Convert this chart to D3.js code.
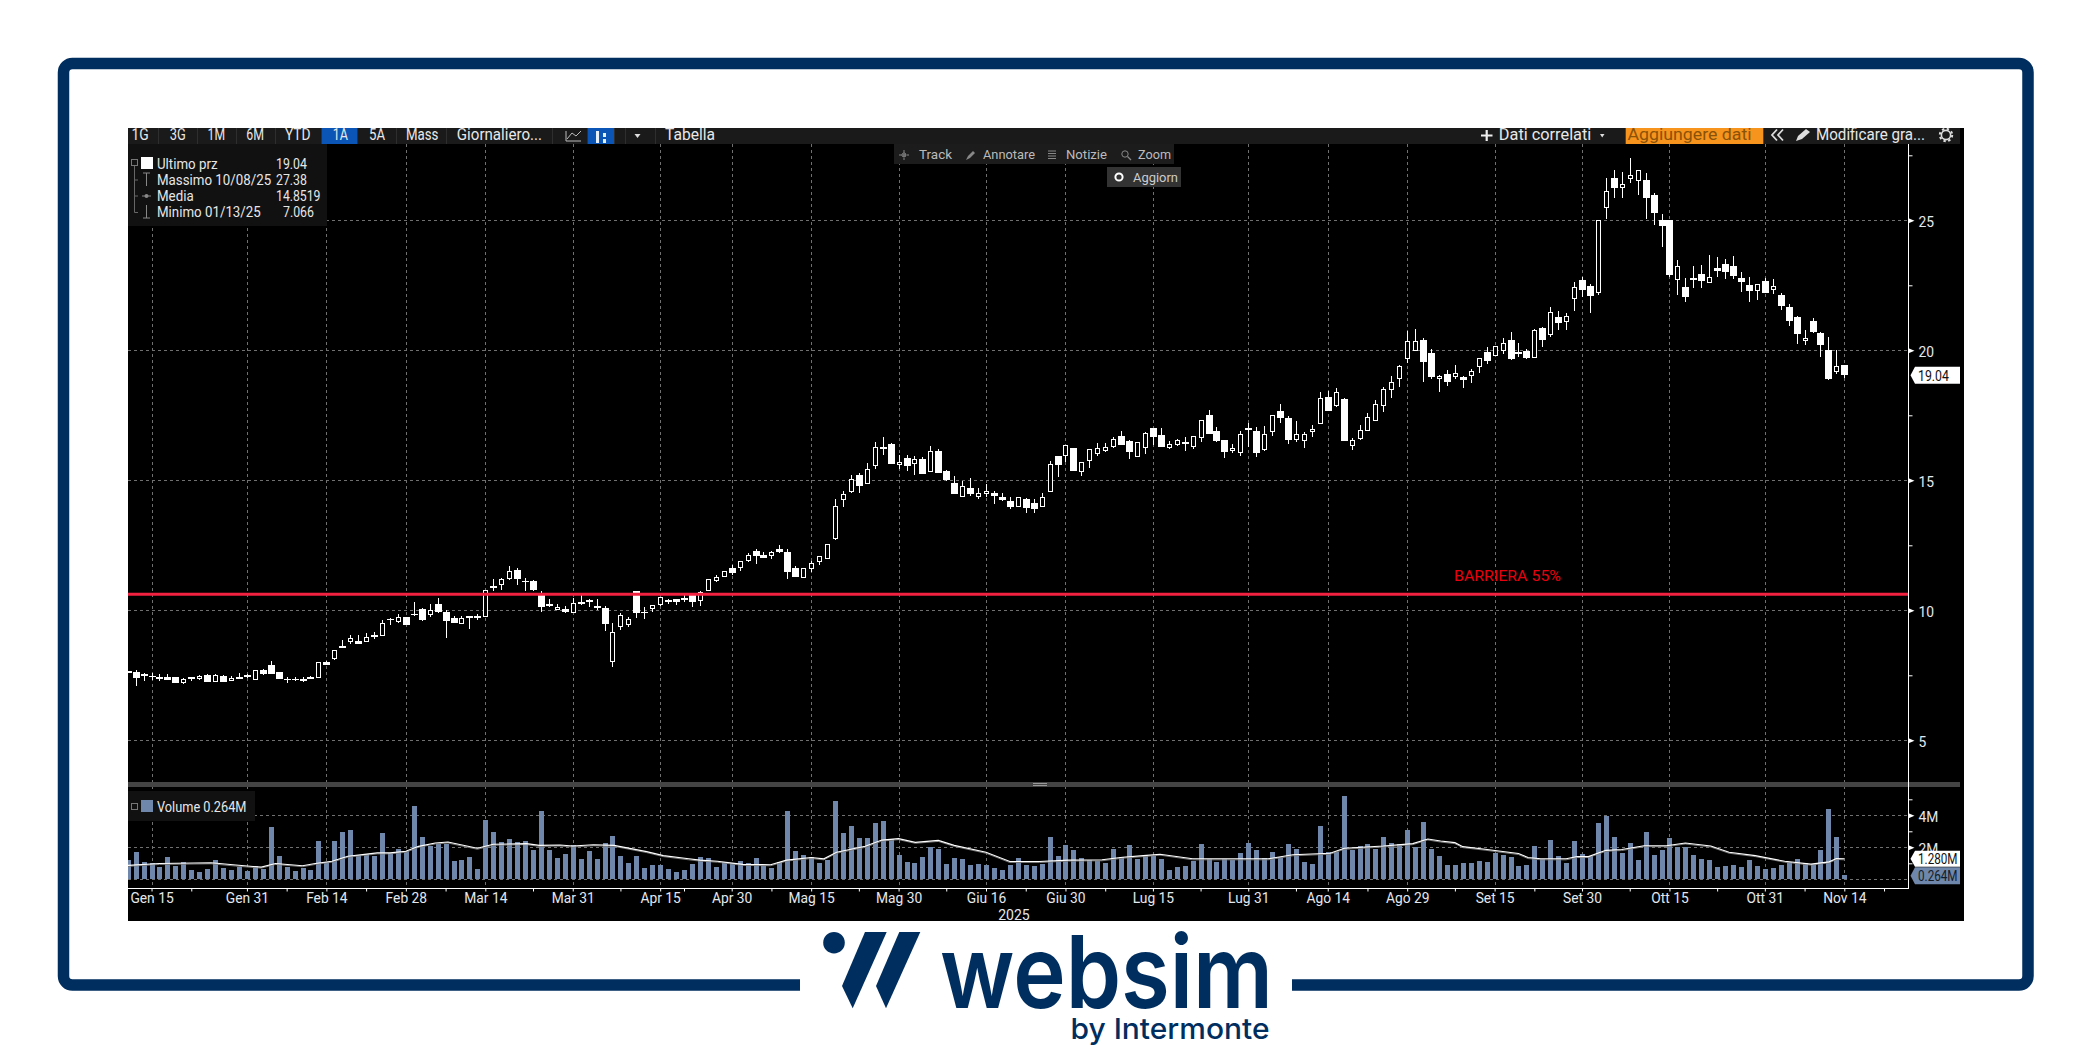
<!DOCTYPE html>
<html><head><meta charset="utf-8">
<script src="https://cdn.jsdelivr.net/npm/d3@7/dist/d3.min.js"></script>
<style>html,body{margin:0;padding:0;background:#fff;overflow:hidden}svg{display:block}text{font-family:Roboto,"Liberation Sans",sans-serif}</style>
</head><body><div id="chart"></div><script>
// ---------- data ----------
const openPrices=[7.67,7.62,7.55,7.49,7.44,7.44,7.42,7.23,7.42,7.37,7.50,7.27,7.46,7.31,7.42,7.51,7.35,7.69,7.90,7.62,7.36,7.36,7.35,7.42,7.42,8.00,8.14,8.63,8.79,8.81,8.81,9.04,9.03,9.67,9.56,9.73,9.87,10.05,9.83,10.23,9.92,9.69,9.50,9.78,9.78,9.76,10.94,11.00,11.22,11.55,11.14,11.13,10.59,10.24,10.04,10.05,9.92,10.32,10.41,10.17,10.08,8.04,9.36,9.46,10.76,9.95,10.06,10.22,10.39,10.42,10.46,10.57,10.38,10.75,11.16,11.30,11.64,11.64,11.90,12.30,12.11,12.09,12.37,12.23,11.62,11.28,11.60,11.86,12.01,12.77,14.26,14.57,15.20,14.87,15.56,16.30,16.39,15.60,15.85,15.64,15.81,15.33,16.12,15.36,14.90,14.38,14.71,14.36,14.49,14.50,14.36,14.21,13.99,14.29,14.13,13.99,14.57,15.93,15.94,16.23,15.33,15.75,16.03,16.14,16.29,16.71,16.51,15.91,16.26,17.01,16.74,16.26,16.37,16.46,16.29,16.64,17.51,16.90,16.55,16.13,16.06,17.01,16.90,16.18,16.87,17.67,17.40,16.56,16.53,16.87,17.18,18.21,17.87,18.13,16.33,16.60,16.91,17.29,17.87,18.49,18.91,19.68,20.01,20.40,19.90,18.92,19.09,18.99,18.96,19.03,19.37,19.94,19.79,20.01,20.40,19.92,19.97,19.72,20.86,20.59,21.28,21.10,21.99,22.71,22.47,22.24,25.49,26.63,26.26,26.60,26.53,26.55,25.97,25.01,25.01,22.72,22.44,22.78,22.94,22.60,23.17,23.32,23.24,22.78,22.51,22.29,22.67,22.35,22.13,21.67,21.28,20.37,21.13,20.67,20.01,19.18,19.44];
const highPrices=[7.67,7.69,7.59,7.58,7.55,7.55,7.42,7.38,7.42,7.50,7.54,7.54,7.50,7.46,7.58,7.56,7.69,7.73,8.05,7.62,7.42,7.42,7.42,7.46,8.00,8.04,8.46,8.85,9.04,9.04,9.12,9.15,9.62,9.69,9.85,9.74,10.32,10.08,10.24,10.47,10.00,9.77,9.77,9.78,9.86,10.77,11.21,11.23,11.71,11.62,11.23,11.17,10.73,10.44,10.23,10.15,10.46,10.59,10.42,10.44,10.17,9.51,9.91,9.76,10.76,10.11,10.19,10.50,10.43,10.42,10.59,10.62,10.76,11.18,11.37,11.51,11.76,11.87,12.21,12.34,12.26,12.30,12.53,12.34,11.69,11.64,11.90,12.06,12.52,14.29,14.59,15.20,15.28,15.66,16.46,16.65,16.42,15.97,15.97,15.93,15.89,16.31,16.20,15.39,15.17,14.97,15.09,14.71,14.86,14.59,14.52,14.36,14.35,14.33,14.29,14.52,15.76,15.93,16.35,16.26,15.69,16.18,16.42,16.42,16.67,16.90,16.55,16.46,16.85,17.01,17.01,16.50,16.58,16.67,16.69,17.31,17.71,17.05,16.55,16.40,16.90,17.21,17.05,17.09,17.50,17.94,17.47,17.28,16.86,17.13,18.40,18.44,18.55,18.17,16.63,17.13,17.59,18.09,18.59,19.01,19.44,20.74,20.82,20.47,20.05,19.05,19.24,19.44,19.01,19.28,19.69,20.13,20.17,20.47,20.71,20.28,20.05,20.82,20.90,21.67,21.51,21.44,22.63,22.82,22.55,25.00,26.63,26.94,26.86,27.38,26.92,26.82,26.05,25.24,25.01,23.46,22.78,23.24,23.28,23.67,23.59,23.51,23.63,23.01,22.82,22.54,22.78,22.74,22.21,21.78,21.32,20.78,21.24,20.71,20.51,20.01,19.44];
const lowPrices=[7.60,7.10,7.28,7.31,7.28,7.32,7.22,7.18,7.28,7.32,7.26,7.26,7.26,7.28,7.37,7.41,7.33,7.51,7.56,7.37,7.22,7.28,7.26,7.36,7.41,7.90,8.10,8.54,8.72,8.72,8.79,8.90,9.03,9.45,9.51,9.44,9.79,9.60,9.76,9.91,8.95,9.53,9.49,9.29,9.64,9.76,10.74,10.79,11.18,10.99,10.74,10.74,9.95,10.13,10.00,9.91,9.90,10.21,10.13,10.03,9.21,7.82,9.24,9.36,9.71,9.65,9.95,10.18,10.24,10.20,10.33,10.14,10.18,10.75,11.09,11.30,11.34,11.51,11.86,11.78,12.01,11.98,12.20,11.21,11.28,11.25,11.48,11.74,11.97,12.71,13.98,14.53,14.52,14.87,15.45,15.97,15.62,15.45,15.36,15.20,15.24,15.32,15.29,14.97,14.48,14.38,14.40,14.29,14.36,14.10,14.21,13.91,13.99,13.75,13.75,13.98,14.55,15.13,15.70,15.36,15.17,15.47,15.93,16.10,16.26,16.36,15.82,15.91,16.01,16.35,16.28,16.21,16.33,16.13,16.21,16.47,16.78,16.47,15.86,16.05,15.94,16.28,15.90,16.13,16.71,17.21,16.40,16.47,16.24,16.67,17.18,17.67,17.82,16.51,16.17,16.55,16.90,17.28,17.63,18.17,18.59,19.51,20.01,18.78,18.90,18.40,18.63,18.90,18.55,18.74,19.13,19.47,19.78,19.86,19.63,19.74,19.67,19.71,20.13,20.51,20.78,20.78,21.51,22.04,21.44,22.13,25.05,25.86,25.86,26.44,25.97,25.05,24.82,23.97,22.82,22.13,21.86,22.40,22.40,22.60,22.82,22.74,22.74,22.24,21.86,21.94,22.21,22.17,21.55,20.94,20.24,20.21,20.67,19.74,18.86,19.09,18.94];
const closePrices=[7.60,7.41,7.50,7.42,7.37,7.33,7.22,7.35,7.37,7.46,7.26,7.49,7.26,7.38,7.37,7.45,7.69,7.56,7.56,7.37,7.31,7.33,7.32,7.37,8.00,7.91,8.46,8.55,8.92,8.72,8.96,9.01,9.50,9.64,9.73,9.45,9.85,9.64,9.99,9.95,9.60,9.53,9.69,9.76,9.71,10.77,10.87,11.19,11.49,11.21,11.08,10.78,10.13,10.17,10.12,9.95,10.26,10.24,10.33,10.10,9.47,9.14,9.81,9.64,9.91,9.93,10.19,10.50,10.37,10.33,10.43,10.32,10.67,11.18,11.26,11.51,11.44,11.87,12.10,12.07,12.01,12.21,12.23,11.46,11.28,11.60,11.79,12.06,12.52,14.01,14.47,15.04,14.80,15.42,16.26,16.20,15.62,15.69,15.56,15.80,15.24,16.11,15.29,15.01,14.48,14.77,14.48,14.50,14.58,14.40,14.25,13.98,14.35,13.94,13.91,14.35,15.61,15.59,16.34,15.36,15.69,16.18,16.22,16.27,16.58,16.36,16.09,16.46,16.81,16.67,16.28,16.38,16.54,16.41,16.69,17.31,16.78,16.51,16.09,16.23,16.77,16.95,16.05,16.77,17.50,17.40,16.55,16.77,16.77,16.96,18.15,17.67,18.38,16.51,16.54,16.92,17.42,17.92,18.50,18.77,19.38,20.35,20.35,19.55,18.97,19.00,18.78,19.10,18.86,19.19,19.69,19.59,20.15,20.27,19.67,19.87,19.71,20.77,20.40,21.46,21.05,21.31,22.42,22.32,22.09,25.00,26.12,26.24,26.38,26.73,26.92,25.86,25.28,24.78,22.90,23.23,22.05,22.72,22.67,22.81,23.05,23.01,22.86,22.63,22.28,22.54,22.21,22.46,21.71,21.13,20.63,20.46,20.71,20.21,18.90,19.37,19.04];
const volumes=[1.20,1.69,1.07,0.99,0.76,1.38,0.82,1.07,0.58,0.45,0.64,1.20,0.70,0.58,0.76,0.52,0.82,0.64,3.30,1.44,0.76,0.52,0.70,0.58,2.37,1.07,2.37,2.93,3.11,1.51,1.57,1.44,2.87,1.63,1.88,1.75,4.60,2.62,2.06,2.19,2.19,1.13,1.20,1.38,0.64,3.73,2.93,2.31,2.49,2.31,2.37,1.81,4.29,1.81,1.32,1.57,2.12,1.26,1.75,1.26,2.25,2.68,1.44,1.01,1.44,0.70,0.89,0.89,0.64,0.45,0.58,0.95,1.38,1.32,0.76,1.07,1.01,1.13,1.01,1.32,0.82,0.70,1.07,4.29,1.75,1.51,1.38,1.01,1.20,4.91,2.87,3.36,2.56,2.56,3.55,3.67,2.49,1.51,1.07,1.01,1.38,2.00,1.88,0.95,1.32,1.26,0.89,0.95,0.89,0.70,0.58,0.89,1.32,0.89,0.82,0.95,2.62,1.44,2.12,1.81,1.32,1.20,1.13,1.01,1.88,1.38,2.12,1.26,1.51,1.44,1.26,0.58,0.76,0.82,1.13,2.19,1.26,1.07,1.26,1.20,1.63,2.25,1.81,1.32,1.69,1.38,2.19,1.88,1.07,0.95,3.36,1.69,1.69,5.22,1.81,2.06,2.19,1.88,2.62,2.25,2.19,3.11,2.00,3.61,1.88,1.44,0.89,0.89,1.01,1.01,1.13,1.07,1.63,1.51,1.38,0.82,0.89,2.06,1.26,2.43,1.44,1.01,2.37,1.57,1.44,3.55,3.98,2.62,1.63,2.25,1.20,2.93,1.51,1.81,2.56,2.00,2.00,1.51,1.26,1.20,0.76,0.82,0.89,0.76,1.20,0.82,0.64,0.70,0.89,1.07,1.26,1.01,0.95,1.81,4.41,2.62,0.264];
const avgSessions=[0,4,10.5,13.6,16.8,18.6,22,23.6,25.7,27.7,31.4,33,35,36.6,38.7,40.3,44,46,50.2,51.8,54.4,56,58.6,61.2,65.3,67.4,70.6,72,74.2,77.4,80.9,82.9,86,87.6,89.2,92.8,94.9,97,99.1,102,104,108,111,114.7,118.4,122.6,125.2,127.8,129.9,134,143.5,146.6,151.3,153.1,158,161.7,163.6,165.2,167,168,170.8,175,176.2,177.8,181,182.4,183.8,186,188,190.8,193.6,196,199.2,201.5,204.8,208.5,211.8,214.1,215,216];
const avgVolumes=[.87,.99,1.03,.89,.76,.99,.85,.99,1.13,1.44,1.65,1.65,1.75,2.06,2.27,2.33,1.94,2.19,2.23,2.12,2.14,2.08,2.16,2.12,1.73,1.48,1.28,1.20,1.13,.93,.91,1.20,1.36,1.28,1.69,2.06,2.45,2.54,2.31,2.43,2.12,1.69,1.11,1.11,1.20,1.22,1.38,1.48,1.57,1.28,1.28,1.53,1.63,1.94,2.08,2.23,2.52,2.39,2.29,2.04,1.88,1.61,1.36,1.28,1.28,1.42,1.42,1.81,1.86,2.10,2.10,2.27,2.08,1.69,1.48,1.13,.95,1.09,1.30,1.28];
const dateTickSessions=[3,15,25,35,45,56,67,76,86,97,108,118,129,141,151,161,172,183,194,206,216];
const dateTickLabels=["Gen 15","Gen 31","Feb 14","Feb 28","Mar 14","Mar 31","Apr 15","Apr 30","Mag 15","Mag 30","Giu 16","Giu 30","Lug 15","Lug 31","Ago 14","Ago 29","Set 15","Set 30","Ott 15","Ott 31","Nov 14"];
const minorTickSessions=[8,20,30,40,51,62,70,81,92,103,113,123,135,147,156,167,177,189,200,211,221];
const priceTicks=[5,10,15,20,25];
const priceMinorTicks=[7.5,12.5,17.5,22.5,27.5];
const volumeTicks=[0,2,4];
const volumeLabelled=[2,4];
const volumeMinorTicks=[1,3,5];
const barrierLevel=10.62;
const lastPrice=19.04, lastVolume=0.264, lastAvgVolume=1.280;
const toolbarLeft=[["1G",131.5,148.7],["3G",169.8,185.8],["1M",207.6,225],["6M",246.3,264],["YTD",285,310.6],["1A",332.8,348],["5A",369,385],["Mass",406,438.4],["Giornaliero...",456.8,542],["Tabella",665,715]];
const toolbarRight=[["Dati correlati",1498.8,1591.3],["Modificare gra...",1816,1925]];
const toolbarSeps=[158,197,236,275,321,357,396,446,552,587,614,625,655];
const legendRows=[["Ultimo prz","19.04",276,31],["Massimo 10/08/25","27.38",276,31],["Media","14.8519",276,44.5],["Minimo 01/13/25","7.066",283,31]];
const overlayItems=[["Track",919,952],["Annotare",983,1035],["Notizie",1066,1107],["Zoom",1138,1171]];

// ---------- setup ----------
const W=2092,H=1049,navy="#002e5f",volBlue="#6f87aa",gridC="#707070";
const svg=d3.select("#chart").append("svg").attr("width",W).attr("height",H);
const defs=svg.append("defs");
defs.append("clipPath").attr("id","panel").append("rect").attr("x",128).attr("y",128).attr("width",1836).attr("height",793);

const x=d3.scaleLinear().domain([0,216]).range([127.7,1844.3]);
const y=d3.scaleLinear().domain([5,25]).range([740.3,220.3]);
const v=d3.scaleLinear().domain([0,4]).range([879.3,815.3]);
const axisX=1908.5, axisBottom=888.5;
const px=d=>Math.round(x(d));
function condense(sel,k){sel.each(function(){this.setAttribute("textLength",this.getComputedTextLength()*k);this.setAttribute("lengthAdjust","spacingAndGlyphs");});}

// frame
svg.append("rect").attr("x",63.5).attr("y",63.5).attr("width",1964.5).attr("height",921.5).attr("rx",9)
  .attr("fill","none").attr("stroke",navy).attr("stroke-width",11.5);
svg.append("rect").attr("x",800).attr("y",970).attr("width",492).attr("height",30).attr("fill","#fff");

// panel
const panel=svg.append("g").attr("clip-path","url(#panel)");
panel.append("rect").attr("x",128).attr("y",128).attr("width",1836).attr("height",793).attr("fill","#000");

// grid
const grid=panel.append("g").attr("fill","none").attr("stroke",gridC).attr("stroke-dasharray","3,3").attr("shape-rendering","crispEdges");
grid.selectAll(".vg").data(dateTickSessions).join("line").attr("x1",d=>px(d)+.5).attr("x2",d=>px(d)+.5).attr("y1",144).attr("y2",axisBottom);
grid.selectAll(".hg").data(priceTicks).join("line").attr("class","hg").attr("x1",128).attr("x2",axisX).attr("y1",d=>Math.round(y(d))+.5).attr("y2",d=>Math.round(y(d))+.5);
grid.selectAll(".vh").data(volumeTicks).join("line").attr("class","vh").attr("x1",128).attr("x2",axisX).attr("y1",d=>Math.round(v(d))+.5).attr("y2",d=>Math.round(v(d))+.5);

// pane separator
panel.append("rect").attr("x",128).attr("y",782).attr("width",1832).attr("height",5).attr("fill","#444");
panel.append("rect").attr("x",1033).attr("y",783).attr("width",14).attr("height",1).attr("fill","#999");
panel.append("rect").attr("x",1033).attr("y",785).attr("width",14).attr("height",1).attr("fill","#999");

// volume bars
panel.append("g").attr("fill",volBlue).attr("shape-rendering","crispEdges")
 .selectAll("rect").data(volumes).join("rect")
 .attr("x",(d,i)=>px(i)-2).attr("width",5).attr("y",d=>v(d)).attr("height",d=>v(0)-v(d));
const avgPts=avgSessions.map((s,i)=>[x(s),v(avgVolumes[i])]);
panel.append("path").attr("d",d3.line()(avgPts.map(p=>[p[0],p[1]+1]))).attr("fill","none").attr("stroke","#777").attr("stroke-width",1);
panel.append("path").attr("d",d3.line()(avgPts)).attr("fill","none").attr("stroke","#fff").attr("stroke-width",1.1);

// candles
const cg=panel.append("g").attr("shape-rendering","crispEdges");
const candles=closePrices.map((c,i)=>({i,o:openPrices[i],h:highPrices[i],l:lowPrices[i],c}));
cg.selectAll(".w").data(candles).join("rect").attr("x",d=>px(d.i)).attr("width",1)
  .attr("y",d=>y(d.h)).attr("height",d=>y(d.l)-y(d.h)).attr("fill","#fff");
cg.selectAll(".b").data(candles).join("rect").attr("class","b")
  .attr("x",d=>d.c>=d.o?px(d.i)-1.5:px(d.i)-3)
  .attr("width",d=>d.c>=d.o?4:7)
  .attr("y",d=>y(Math.max(d.o,d.c)))
  .attr("height",d=>Math.max(1.5,Math.abs(y(d.o)-y(d.c))))
  .attr("fill",d=>d.c>=d.o?"#000":"#fff")
  .attr("stroke",d=>d.c>=d.o?"#fff":"none").attr("stroke-width",1);

// barrier
panel.append("line").attr("x1",128).attr("x2",axisX).attr("y1",y(barrierLevel)).attr("y2",y(barrierLevel))
  .attr("stroke","#f2213f").attr("stroke-width",3);
panel.append("text").attr("x",1454).attr("y",580.5).attr("font-size",15.5).attr("fill","#e8000f")
  .attr("textLength",107).attr("lengthAdjust","spacingAndGlyphs").text("BARRIERA 55%");

// y axes (price and volume)
const labelColor="#e4e8ee";
function styleAxis(g){g.select(".domain").remove();g.selectAll("line").attr("stroke","#fff");
  g.selectAll("text").attr("fill",labelColor).attr("font-size",15).attr("font-family","Roboto").call(condense,.92);}
const yAxisG=panel.append("g").attr("transform",`translate(${axisX},0)`);
yAxisG.append("line").attr("y1",144).attr("y2",axisBottom).attr("stroke","#fff").attr("shape-rendering","crispEdges");
const ya=yAxisG.append("g").call(d3.axisRight(y).tickValues(priceTicks).tickSize(0).tickPadding(10)).call(styleAxis);
yAxisG.append("g").call(d3.axisRight(y).tickValues(priceMinorTicks).tickSize(4).tickFormat("")).call(styleAxis);
const va=yAxisG.append("g").call(d3.axisRight(v).tickValues(volumeLabelled).tickFormat(d=>d+"M").tickSize(0).tickPadding(10)).call(styleAxis);
yAxisG.append("g").call(d3.axisRight(v).tickValues(volumeMinorTicks).tickSize(4).tickFormat("")).call(styleAxis);
[ya,va].forEach(a=>{a.selectAll(".tick").append("path").attr("d","M0,-2.5L6,0L0,2.5Z").attr("fill","#fff");
  a.selectAll("text").attr("transform","translate(0,1.5)");});

// x axis
const xAxisG=panel.append("g").attr("transform",`translate(0,${axisBottom})`);
xAxisG.append("line").attr("x1",128).attr("x2",axisX).attr("stroke","#fff").attr("shape-rendering","crispEdges");
const xa=d3.axisBottom(x).tickValues(dateTickSessions).tickFormat((d,i)=>dateTickLabels[i]).tickSize(3).tickPadding(1);
xAxisG.append("g").call(xa).call(styleAxis);
xAxisG.append("g").call(d3.axisBottom(x).tickValues(minorTickSessions).tickSize(3).tickFormat("")).call(styleAxis);
panel.append("text").attr("x",1014).attr("y",920).attr("text-anchor","middle").attr("font-size",14).attr("fill",labelColor).text("2025");

// value flags
function flag(cy,h,bg,txt,tc,len){
  const t=cy-h/2,b=cy+h/2;
  panel.append("path").attr("d",`M1910.5,${cy}L1915,${t}H1960V${b}H1915Z`).attr("fill",bg);
  panel.append("text").attr("x",1918).attr("y",cy+5.5).attr("font-size",15).attr("fill",tc)
    .attr("textLength",len).attr("lengthAdjust","spacingAndGlyphs").text(txt);
}
flag(y(lastPrice),17,"#fff",lastPrice.toFixed(2),"#111",31);
flag(858.7,16,"#fff",lastAvgVolume.toFixed(3)+"M","#111",39.5);
flag(875.7,17,volBlue,lastVolume.toFixed(3)+"M","#141c28",39.5);

// toolbar
const tb=panel.append("g");
tb.append("rect").attr("x",128).attr("y",128).attr("width",1832).attr("height",16).attr("fill","#1a1a1a");
tb.append("rect").attr("x",321).attr("y",128).attr("width",36).attr("height",16).attr("fill","#0a55b5");
tb.append("rect").attr("x",587).attr("y",128).attr("width",27).attr("height",16).attr("fill","#0a55b5");
tb.append("rect").attr("x",1625.7).attr("y",128).attr("width",137.6).attr("height",16).attr("fill","#f7941d");
tb.selectAll(".sep").data(toolbarSeps).join("rect").attr("x",d=>d).attr("y",128).attr("width",1).attr("height",16).attr("fill","#2e2e2e");
tb.selectAll(".tl").data(toolbarLeft.concat(toolbarRight)).join("text").attr("x",d=>d[1]).attr("y",139.5).attr("font-size",16).attr("fill","#e8e8e8")
  .attr("textLength",d=>d[2]-d[1]).attr("lengthAdjust","spacingAndGlyphs").text(d=>d[0]);
tb.append("text").attr("x",1627.5).attr("y",139.5).attr("font-size",16).attr("fill","#8a5208").attr("textLength",124).attr("lengthAdjust","spacingAndGlyphs").text("Aggiungere dati");
tb.append("path").attr("d","M1481,135.5H1492.5M1486.7,130V141").attr("stroke","#eee").attr("stroke-width",2.2);
tb.append("path").attr("d","M1600,134H1604.5L1602.2,137.5Z M634.5,134H640.5L637.5,138Z").attr("fill","#ddd");
tb.append("path").attr("d","M1777,129.5L1772,135L1777,140.5M1783,129.5L1778,135L1783,140.5").attr("fill","none").attr("stroke","#ddd").attr("stroke-width",1.8);
tb.append("path").attr("d","M1796,141L1798,136L1806,129L1810,132L1802,139Z").attr("fill","#ddd");
tb.append("circle").attr("cx",1946).attr("cy",135).attr("r",4.6).attr("fill","none").attr("stroke","#ddd").attr("stroke-width",1.6);
tb.append("circle").attr("cx",1946).attr("cy",135).attr("r",6.2).attr("fill","none").attr("stroke","#ddd").attr("stroke-width",2).attr("stroke-dasharray","2.4,2.47");
tb.append("path").attr("d","M566,141V131M566,141H581M567,139L572,133L576,136L581,131").attr("fill","none").attr("stroke","#bbb").attr("stroke-width",1);
tb.append("path").attr("d","M596,131H599V143H596Z M603,133H606V137H603Z M603,139H606V143H603Z").attr("fill","#e6eef8");

// legend
const lg=panel.append("g");
lg.append("rect").attr("x",128).attr("y",144).attr("width",199).attr("height",82).attr("fill","#111");
lg.append("rect").attr("x",141).attr("y",157).attr("width",12).attr("height",12).attr("fill","#fff");
lg.append("rect").attr("x",131.5).attr("y",159.5).attr("width",6).attr("height",6).attr("fill","none").attr("stroke","#777");
lg.append("path").attr("d","M134.5,166V212.5H138M134.5,180H138M134.5,196H138").attr("fill","none").attr("stroke","#666");
lg.append("path").attr("d","M143,173H150M146.5,173V186M143,218H150M146.5,205V218M142,196H151").attr("fill","none").attr("stroke","#888");
lg.append("circle").attr("cx",146.5).attr("cy",196).attr("r",2).attr("fill","#888");
lg.selectAll(".ln").data(legendRows).join("text").attr("x",157).attr("y",(d,i)=>168.5+16*i).attr("font-size",14.3).attr("fill","#e6e6e6").text(d=>d[0]).call(condense,.93);
lg.selectAll(".lv").data(legendRows).join("text").attr("x",d=>d[2]).attr("y",(d,i)=>168.5+16*i).attr("font-size",14.3).attr("fill","#e6e6e6")
  .attr("textLength",d=>d[3]).attr("lengthAdjust","spacingAndGlyphs").text(d=>d[1]);

// volume legend
const vl=panel.append("g");
vl.append("rect").attr("x",128).attr("y",791).attr("width",127).attr("height",30).attr("fill","#111");
vl.append("rect").attr("x",131.5).attr("y",803.5).attr("width",6).attr("height",6).attr("fill","none").attr("stroke","#777");
vl.append("rect").attr("x",141).attr("y",800).attr("width",12).attr("height",12).attr("fill",volBlue);
vl.append("text").attr("x",157).attr("y",811.5).attr("font-size",14.3).attr("fill","#e6e6e6").attr("textLength",89.5).attr("lengthAdjust","spacingAndGlyphs").text("Volume 0.264M");

// overlay buttons
const ov=panel.append("g");
ov.append("rect").attr("x",894).attr("y",144).attr("width",280).attr("height",20).attr("fill","#1c1c1c");
ov.selectAll(".ot").data(overlayItems).join("text").attr("x",d=>d[1]).attr("y",159).attr("font-size",13).attr("fill","#bbb")
  .attr("textLength",d=>d[2]-d[1]).attr("lengthAdjust","spacingAndGlyphs").text(d=>d[0]);
ov.append("path").attr("d","M904,150V160M899,155H909").attr("stroke","#888").attr("stroke-dasharray","3,1");
ov.append("circle").attr("cx",904).attr("cy",155).attr("r",2).attr("fill","none").attr("stroke","#888");
ov.append("path").attr("d","M966,160L968,156L973,151L975,153L970,158Z").attr("fill","#888");
ov.append("path").attr("d","M1048,151H1056M1048,153.5H1056M1048,156H1056M1048,158.5H1056").attr("stroke","#888");
ov.append("circle").attr("cx",1125).attr("cy",154).attr("r",3.2).attr("fill","none").attr("stroke","#888");
ov.append("path").attr("d","M1127.5,156.5L1131,160").attr("stroke","#888").attr("stroke-width",1.3);
ov.append("rect").attr("x",1107).attr("y",167).attr("width",74).attr("height",20).attr("fill","#333");
ov.append("circle").attr("cx",1119).attr("cy",177).attr("r",3.6).attr("fill","#333").attr("stroke","#fff").attr("stroke-width",2);
ov.append("text").attr("x",1133).attr("y",181.5).attr("font-size",13).attr("fill","#ccc").attr("textLength",45).attr("lengthAdjust","spacingAndGlyphs").text("Aggiorn");

// logo
const lo=svg.append("g").attr("fill",navy);
lo.append("circle").attr("cx",834).attr("cy",942.7).attr("r",10.8);
lo.append("path").attr("d","M865,932H886.7L852.7,1008.3L842,986Z");
lo.append("path").attr("d","M899.3,932H920.3L886,1008.3L876,986Z");
lo.append("text").attr("x",940).attr("y",1008).attr("font-size",101).attr("font-weight",600).attr("style","font-family:Inter,Roboto,sans-serif").attr("textLength",333).attr("lengthAdjust","spacingAndGlyphs").text("websim");
lo.append("text").attr("x",1070.5).attr("y",1039).attr("font-size",29).attr("font-weight",500).attr("style","font-family:Inter,Roboto,sans-serif").attr("textLength",199).attr("lengthAdjust","spacingAndGlyphs").text("by Intermonte");
</script></body></html>
